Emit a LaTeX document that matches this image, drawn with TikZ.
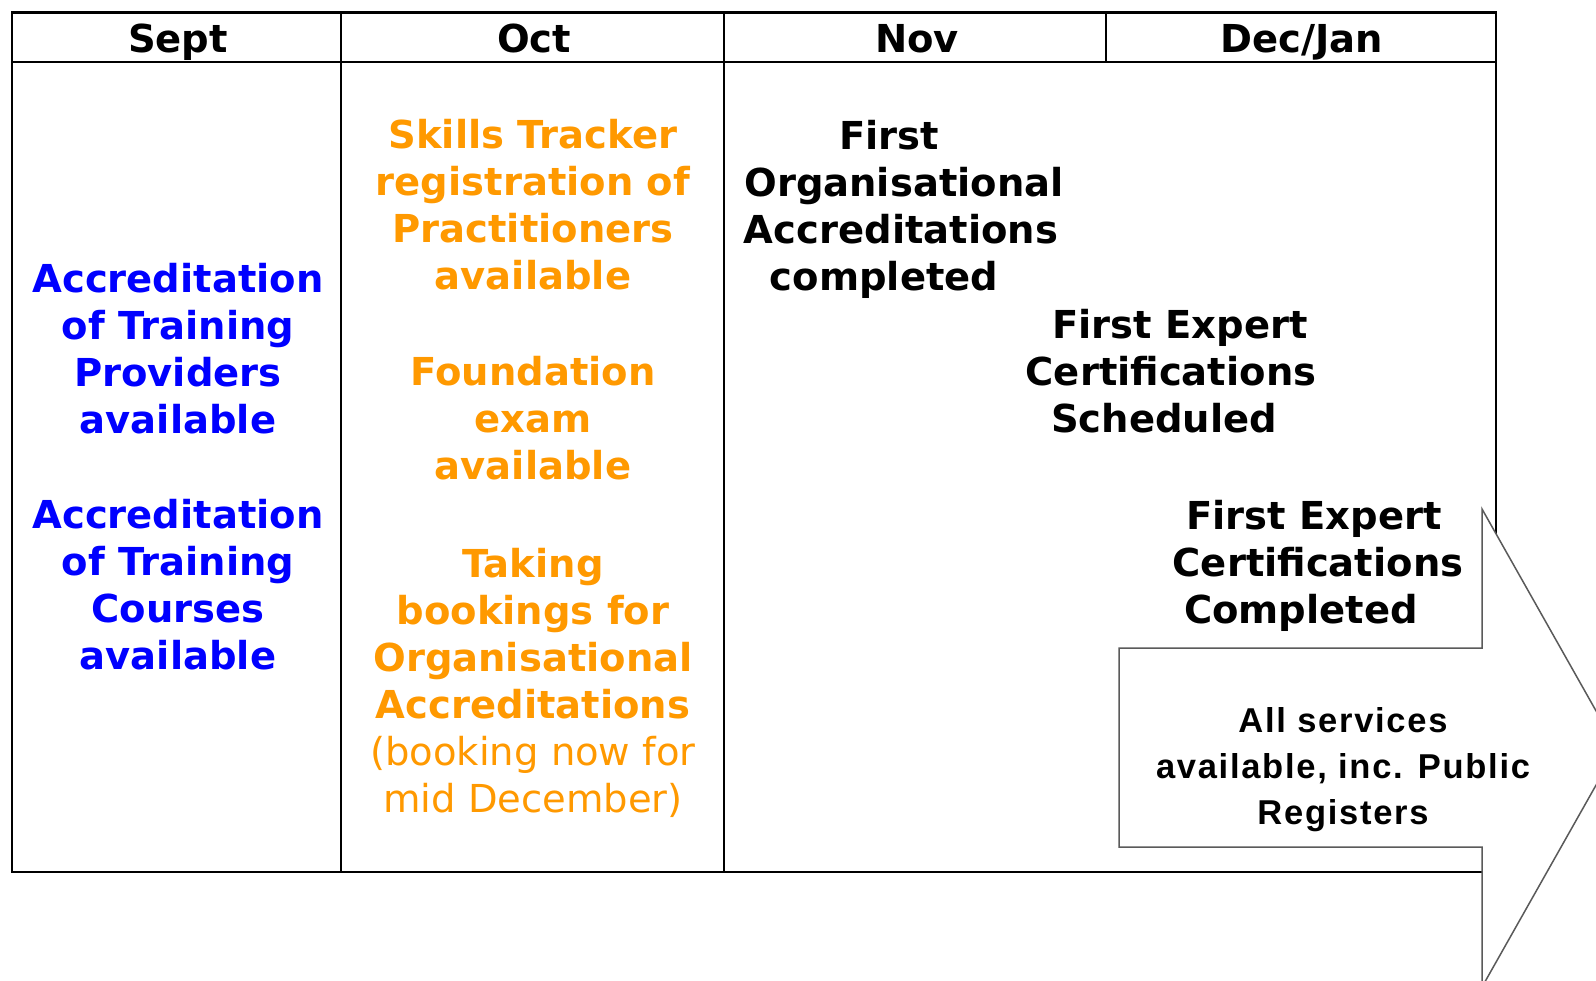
\documentclass[tikz,border=0pt]{standalone}
\usepackage{fontspec}
\setmainfont{DejaVu Sans}
\newfontfamily\arialb[LetterSpace=5]{Liberation Sans}
\definecolor{ora}{RGB}{255,153,0}
\definecolor{blu}{RGB}{0,0,255}
\definecolor{arrgray}{RGB}{90,90,90}
\tikzset{
  gridline/.style={line width=2.2pt, black},
  arrowshape/.style={line width=1.5pt, draw=arrgray, fill=white, line join=miter},
  hdr/.style={font=\bfseries\fontsize{38.5}{47}\selectfont, inner sep=0pt, anchor=base},
  bodytext/.style={font=\bfseries\fontsize{38.5}{47}\selectfont, align=center, inner sep=0pt},
  bluetext/.style={bodytext, text=blu},
  oratext/.style={bodytext, text=ora},
  blacktext/.style={bodytext, text=black},
  servtext/.style={font=\arialb\bfseries\fontsize{34.5}{46}\selectfont, align=center, inner sep=0pt}
}
\begin{document}
\begin{tikzpicture}[x=1pt,y=-1pt]
\useasboundingbox (0,0) rectangle (1596,981);
\clip (0,0) rectangle (1596,981);
\fill[white] (0,0) rectangle (1596,981);
% table
\draw[gridline] (12,12.5) rectangle (1496,872);
\draw[gridline] (12,62) -- (1496,62);
\draw[gridline] (341,12.5) -- (341,872);
\draw[gridline] (724,12.5) -- (724,872);
\draw[gridline] (1106,12.5) -- (1106,62);
% arrow
\draw[arrowshape] (1119,648) -- (1482,648) -- (1482,509) -- (1617,748) -- (1482,987) -- (1482,847) -- (1119,847) -- cycle;
% headers
\node[hdr] (sept) at (178,53) {Sept};
\node[hdr] (oct) at (534,53) {Oct};
\node[hdr] (nov) at (917,53) {Nov};
\node[hdr] (decjan) at (1302,53) {Dec/Jan};
% Sept
\node[bluetext] (accprov) at (178,348.5) {Accreditation\\of Training\\Providers\\available};
\node[bluetext] (acccour) at (178,585) {Accreditation\\of Training\\Courses\\available};
% Oct
\node[oratext] (skills) at (533,205) {Skills Tracker\\registration of\\Practitioners\\available};
\node[oratext] (found) at (533,418) {Foundation\\exam\\available};
\node[oratext] (taking) at (533,683) {Taking\\bookings for\\Organisational\\Accreditations\\{\mdseries(booking now for}\\{\mdseries mid December)}};
% Nov
\node[blacktext] (firstorg) at (897,209) {First\hspace*{16pt}\\\hspace*{14pt}Organisational\\\hspace*{8pt}Accreditations\\completed\hspace*{26pt}};
\node[blacktext] (sched) at (1171,371.5) {\hspace*{18pt}First Expert\\Certifications\\Scheduled\hspace*{14pt}};
\node[blacktext] (compl) at (1311,565.5) {\hspace*{6pt}First Expert\\\hspace*{14pt}Certifications\\Completed\hspace*{20pt}};
\node[servtext] (allserv) at (1343,770) {All services\\available, inc. Public\\Registers};
\end{tikzpicture}
\end{document}
